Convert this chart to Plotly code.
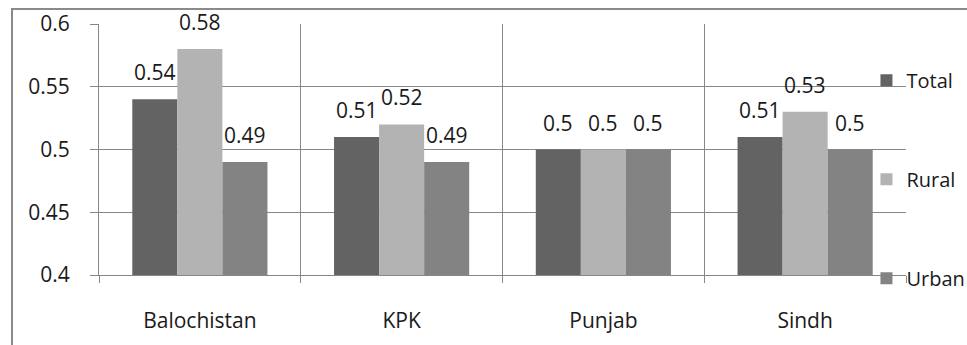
import plotly.graph_objects as go

# Provinces and mean values per area type
provinces = ["Balochistan", "KPK", "Punjab", "Sindh"]
total = [0.54, 0.51, 0.50, 0.51]
rural = [0.58, 0.52, 0.50, 0.53]
urban = [0.49, 0.49, 0.50, 0.50]

series = [("Total", total, "#636363"),
          ("Rural", rural, "#b3b3b3"),
          ("Urban", urban, "#838383")]

FONT = "Open Sans, DejaVu Sans, sans-serif"
GRID = "#878787"
BARGAP = 0.33

fig = go.Figure()
for name, vals, color in series:
    fig.add_trace(go.Bar(
        x=provinces, y=vals, name=name, legendgroup=name,
        marker=dict(color=color, line=dict(width=0)),
    ))

# value labels above each bar
n = len(series)
bw = (1 - BARGAP) / n
for j, (name, vals, color) in enumerate(series):
    off = (j - (n - 1) / 2) * bw
    for i, v in enumerate(vals):
        fig.add_annotation(
            x=i + off, y=v, xref="x", yref="y",
            text=f"{v:g}", showarrow=False,
            yanchor="middle", yshift=27,
            font=dict(family=FONT, size=21, color="#1a1a1a"),
        )

# outer chart border
fig.add_shape(type="rect", xref="paper", yref="paper",
              x0=-0.1078, x1=1.5, y0=-1.0, y1=1.0598,
              line=dict(color="#8a8a8a", width=2), layer="below")

fig.update_layout(
    width=967, height=345,
    margin=dict(l=99, r=61, t=24, b=70, autoexpand=False),
    paper_bgcolor="white", plot_bgcolor="white",
    barmode="group", bargap=BARGAP, bargroupgap=0,
    font=dict(family=FONT, size=21, color="#1a1a1a"),
    showlegend=True,
    legend=dict(x=0.951, y=0.854, xanchor="left", yanchor="top",
                bgcolor="rgba(0,0,0,0)", tracegroupgap=70,
                traceorder="grouped", itemwidth=30,
                font=dict(family=FONT, size=20, color="#1a1a1a")),
)
fig.update_xaxes(
    type="category", tickson="boundaries",
    showgrid=True, gridcolor=GRID, gridwidth=1,
    showline=True, linecolor=GRID, linewidth=1,
    ticks="outside", ticklen=7, tickcolor=GRID,
    ticklabelstandoff=27,
    tickfont=dict(family=FONT, size=21),
)
fig.update_yaxes(
    range=[0.4, 0.6], dtick=0.05, tick0=0.4,
    tickformat="~g",
    showgrid=True, gridcolor=GRID, gridwidth=1,
    showline=True, linecolor=GRID, linewidth=1,
    ticks="outside", ticklen=8, tickcolor=GRID,
    ticklabelstandoff=16,
    tickfont=dict(family=FONT, size=21),
    zeroline=False,
)

fig.write_html("out.html")
